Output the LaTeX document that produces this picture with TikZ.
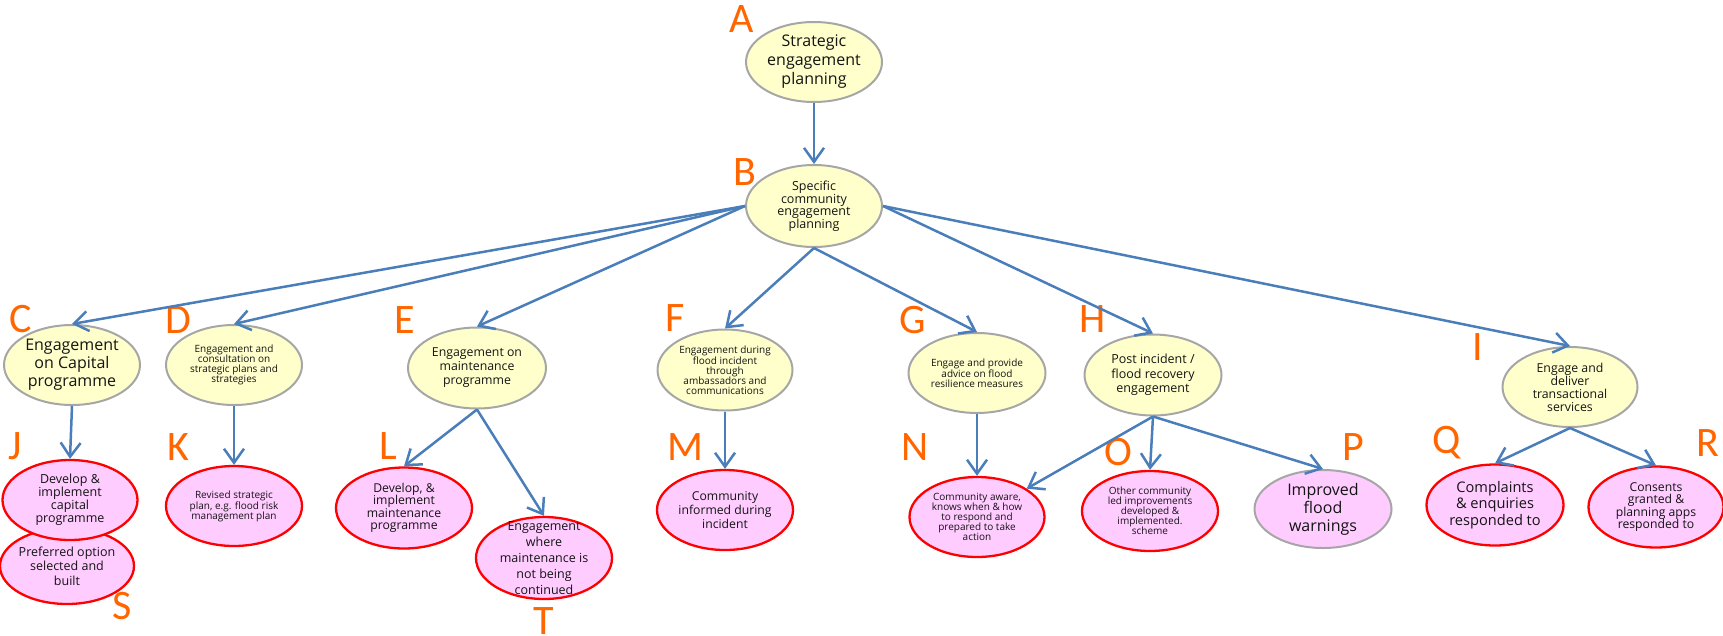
\documentclass[tikz,border=0pt]{standalone}
\usepackage{fontspec}
\setmainfont{Open Sans}
\newfontfamily\letterfont{Carlito}
\usetikzlibrary{shapes.geometric,arrows.meta}
\definecolor{yelfill}{RGB}{255,255,204}
\definecolor{pinkfill}{RGB}{255,204,255}
\definecolor{greyb}{RGB}{166,166,166}
\definecolor{redb}{RGB}{255,0,0}
\definecolor{arrowblue}{RGB}{74,126,187}
\definecolor{lblorange}{RGB}{255,102,0}
\definecolor{txtcol}{RGB}{20,20,20}
\newcommand\myfs[2]{\fontsize{#1}{#2}\selectfont}
\begin{document}
\begin{tikzpicture}[x=1pt,y=-1pt,
  ell/.style={ellipse, inner sep=0pt, minimum width=136pt, minimum height=80pt},
  yb/.style={ell, fill=yelfill, draw=greyb, line width=2pt},
  pk/.style={ell, fill=pinkfill, draw=redb, line width=2.3pt},
  pkg/.style={ell, fill=pinkfill, draw=greyb, line width=2pt},
  lbl/.style={text=lblorange, font=\letterfont\myfs{42}{42}, inner sep=0pt, text height=27pt, text depth=0pt},
  txt/.style={align=center, inner sep=0pt, text=txtcol},
  arr/.style={draw=arrowblue, line width=2.5pt, -{Straight Barb[length=14pt,width=20pt]}}
]
\useasboundingbox (0,0) rectangle (1723,635);

% ellipses
\node[yb, minimum width=136pt, minimum height=80pt] (A) at (814,62) {};
\node[yb, minimum width=136pt, minimum height=82pt] (B) at (814,206) {};
\node[yb] (C) at (72,365) {};
\node[yb] (D) at (234,365) {};
\node[yb, minimum width=138pt, minimum height=81pt] (E) at (477,368) {};
\node[yb, minimum width=135pt, minimum height=81pt] (F) at (725,370) {};
\node[yb, minimum width=137pt] (G) at (977,373) {};
\node[yb, minimum width=137pt, minimum height=81pt] (H) at (1153,375) {};
\node[yb, minimum width=135pt] (I) at (1570,387) {};
\node[pk, minimum width=134pt, minimum height=76pt] (S) at (67,566) {};
\node[pk, minimum width=135pt] (J) at (70,500) {};
\node[pk] (K) at (234,506) {};
\node[pk, minimum height=81pt] (L) at (404,508) {};
\node[pk, minimum height=82pt] (T) at (544,558) {};
\node[pk] (M) at (725,510) {};
\node[pk, minimum width=135pt] (N) at (977,517) {};
\node[pk] (O) at (1150,511) {};
\node[pkg, minimum width=137pt, minimum height=78pt] (P) at (1323,509) {};
\node[pk, minimum width=137pt, minimum height=81pt] (Q) at (1495,505) {};
\node[pk, minimum width=135pt, minimum height=81pt] (R) at (1656,507) {};

% texts
\node[txt, font=\myfs{16}{19}] (At) at (A) {Strategic\\engagement\\planning};
\node[txt, font=\myfs{12.5}{12.5}] (Bt) at (B) {Specific\\community\\engagement\\planning};
\node[txt, font=\myfs{16}{18}] (Ct) at (C) {Engagement\\on Capital\\programme};
\node[txt, font=\myfs{10}{10}] (Dt) at (D) {Engagement and\\consultation on\\strategic plans and\\strategies};
\node[txt, font=\myfs{12.3}{14}] (Et) at (E) {Engagement on\\maintenance\\programme};
\node[txt, font=\myfs{10}{10}] (Ft) at (F) {Engagement during\\flood incident\\through\\ambassadors and\\communications};
\node[txt, font=\myfs{10}{10}] (Gt) at (G) {Engage and provide\\advice on flood\\resilience measures};
\node[txt, font=\myfs{12.5}{14.5}] (Ht) at (H) {Post incident /\\flood recovery\\engagement};
\node[txt, font=\myfs{12.3}{13}] (It) at (I) {Engage and\\deliver\\transactional\\services};
\node[txt, font=\myfs{12.5}{13}] (Jt) at (J) {Develop \&\\implement\\capital\\programme};
\node[txt, font=\myfs{12.5}{14.5}] (St) at (S) {Preferred option\\selected and\\built};
\node[txt, font=\myfs{10}{10}] (Kt) at (K) {Revised strategic\\plan, e.g. flood risk\\management plan};
\node[txt, font=\myfs{12.2}{12.5}] (Lt) at (L) {Develop, \&\\implement\\maintenance\\programme};
\node[txt, font=\myfs{12.5}{16}] (Tt) at (T) {Engagement\\where\\maintenance is\\not being\\continued};
\node[txt, font=\myfs{12.2}{14}] (Mt) at (M) {Community\\informed during\\incident};
\node[txt, font=\myfs{10}{10}] (Nt) at (N) {Community aware,\\knows when \& how\\to respond and\\prepared to take\\action};
\node[txt, font=\myfs{10}{10}] (Ot) at (O) {Other community\\led improvements\\developed \&\\implemented.\\scheme};
\node[txt, font=\myfs{16}{18}] (Pt) at (P) {Improved\\flood\\warnings};
\node[txt, font=\myfs{14.6}{16.7}] (Qt) at (Q) {Complaints\\\& enquiries\\responded to};
\node[txt, font=\myfs{12.2}{12.5}] (Rt) at (R) {Consents\\granted \&\\planning apps\\responded to};

% letter labels
\node[lbl] (LA) at (742,19) {A};
\node[lbl] (LB) at (745,172) {B};
\node[lbl] (LC) at (21,319) {C};
\node[lbl] (LD) at (178,320) {D};
\node[lbl] (LE) at (405,320) {E};
\node[lbl] (LF) at (675,318) {F};
\node[lbl] (LG) at (913,320) {G};
\node[lbl] (LH) at (1093,319) {H};
\node[lbl] (LI) at (1478,347) {I};
\node[lbl] (LJ) at (15,446) {J};
\node[lbl] (LK) at (178,447) {K};
\node[lbl] (LL) at (388,446) {L};
\node[lbl] (LM) at (685,447) {M};
\node[lbl] (LN) at (915,447) {N};
\node[lbl] (LO) at (1118,452) {O};
\node[lbl] (LP) at (1353,447) {P};
\node[lbl] (LQ) at (1447,440) {Q};
\node[lbl] (LR) at (1708,443) {R};
\node[lbl] (LS) at (122,606) {S};
\node[lbl] (LT) at (544,621) {T};

% connectors
\draw[arr] (A.south) -- (B.north);
\draw[arr] (B.west) -- (C.north);
\draw[arr] (B.west) -- (D.north);
\draw[arr] (B.west) -- (E.north);
\draw[arr] (B.south) -- (F.north);
\draw[arr] (B.south) -- (G.north);
\draw[arr] (B.east) -- (H.north);
\draw[arr] (B.east) -- (I.north);
\draw[arr] (C.south) -- (J.north);
\draw[arr] (D.south) -- (K.north);
\draw[arr] (E.south) -- (L.north);
\draw[arr] (E.south) -- (T.north);
\draw[arr] (F.south) -- (M.north);
\draw[arr] (G.south) -- (N.north);
\draw[arr] (H.south) -- (N);
\draw[arr] (H.south) -- (O.north);
\draw[arr] (H.south) -- (P.north);
\draw[arr] (I.south) -- (Q.north);
\draw[arr] (I.south) -- (R.north);
\end{tikzpicture}
\end{document}
